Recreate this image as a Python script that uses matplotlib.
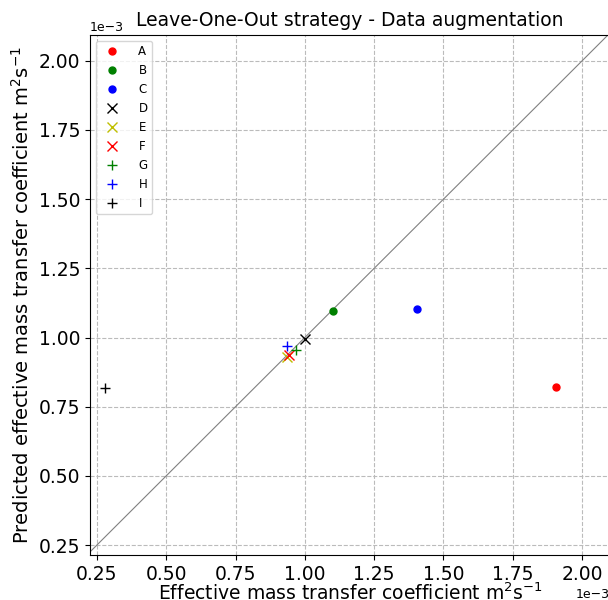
import numpy as np
import matplotlib.pyplot as plt

labels = ['A', 'B', 'C', 'D', 'E', 'F', 'G', 'H', 'I']
markers = ['o', 'o', 'o', 'x', 'x', 'x', '+', '+', '+']
colors = ['r', 'g', 'b', 'k', 'y', 'r', 'g', 'b', 'k']
k_true = np.array([1.905, 1.103, 1.403, 1.002, 0.934, 0.943, 0.967, 0.934, 0.280]) * 1e-3
k_pred = np.array([0.822, 1.097, 1.103, 0.996, 0.928, 0.937, 0.956, 0.970, 0.818]) * 1e-3

fig = plt.figure(figsize=(6.08, 6.0), dpi=100)
ax = fig.add_axes([0.148, 0.075, 0.855, 0.867])

lo, hi = 0.225e-3, 2.10e-3
ax.plot([lo, hi], [lo, hi], color='gray', lw=0.8, zorder=1)

for lab, m, c, xt, yp in zip(labels, markers, colors, k_true, k_pred):
    if m == 'o':
        ax.plot(xt, yp, m, color=c, ms=5, label=lab, zorder=3)
    else:
        ax.plot(xt, yp, m, color=c, ms=7, mew=1.0, label=lab, zorder=3)

ax.set_xlim(lo, hi)
ax.set_ylim(0.214e-3, 2.094e-3)
ax.set_xticks(np.arange(0.25, 2.01, 0.25) * 1e-3)
ax.set_yticks(np.arange(0.25, 2.01, 0.25) * 1e-3)
ax.ticklabel_format(style='sci', axis='both', scilimits=(0, 0))
ax.tick_params(labelsize=13.5)
ax.xaxis.get_offset_text().set_fontsize(9)
ax.yaxis.get_offset_text().set_fontsize(9)
ax.grid(True, linestyle='--', color='#bbbbbb')
ax.set_axisbelow(True)

ax.set_title('Leave-One-Out strategy - Data augmentation', fontsize=13.5)
ax.set_xlabel('Effective mass transfer coefficient m$^2$s$^{-1}$', fontsize=13.5, labelpad=-1)
ax.set_ylabel('Predicted effective mass transfer coefficient m$^2$s$^{-1}$', fontsize=14)
ax.legend(loc='upper left', fontsize=8.5, handletextpad=1.2)

fig.savefig('out.png', dpi=100)
